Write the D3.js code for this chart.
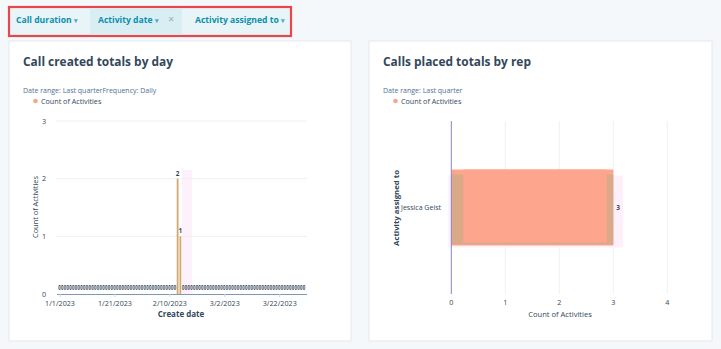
<!DOCTYPE html>
<html><head><meta charset="utf-8">
<script src="https://cdn.jsdelivr.net/npm/d3@7"></script>
<style>
html,body{margin:0;padding:0;background:#f5f8fa;}
svg{display:block;font-family:"Open Sans",sans-serif;}
</style></head><body>
<svg id="c" width="721" height="349"></svg>
<script>
// ---- data ----
const filters = ["Call duration", "Activity date", "Activity assigned to"];
const dayStart = "2023-01-01", dayEnd = "2023-03-31";
const nonZeroDays = ["2023-02-13", "2023-02-14"];
const nonZeroValues = [2, 1];
const dayTickLabels = ["1/1/2023", "1/21/2023", "2/10/2023", "3/2/2023", "3/22/2023"];
const yTicksLeft = [0, 1, 2, 3];
const reps = ["Jessica Geist"];
const repValues = [3];
const xTicksRight = [0, 1, 2, 3, 4];

const svg = d3.select("#c");
const ink = "#33475b", sub = "#516f90";

// filter bar
const fb = svg.append("g");
fb.append("rect").attr("x", 9).attr("y", 7).attr("width", 282).attr("height", 29)
  .attr("fill", "#e8f4f7").attr("stroke", "#e5474d").attr("stroke-width", 2.2);
fb.append("rect").attr("x", 90).attr("y", 8.5).attr("width", 92).attr("height", 26).attr("fill", "#d9eef3");
const fx = [16, 98, 195];
filters.forEach((f, i) => {
  const t = fb.append("text").attr("x", fx[i]).attr("y", 22.5).attr("fill", "#0a8fad")
    .attr("font-size", 8.6).attr("font-weight", 700).text(f + " ");
  t.append("tspan").attr("font-size", 6.5).attr("fill", "#5fa9bd").text("\u25BE");
});
fb.append("text").attr("x", 168).attr("y", 23).attr("fill", "#8fb2bf").attr("font-size", 11).text("\u00D7");

// cards
[[9, 41, 342, 300], [369, 41, 343, 300]].forEach(c => {
  svg.append("rect").attr("x", c[0]).attr("y", c[1]).attr("width", c[2]).attr("height", c[3])
    .attr("fill", "#fff").attr("stroke", "#e3e8ee").attr("stroke-width", 1);
});

function header(x, title, subtitle) {
  svg.append("text").attr("x", x).attr("y", 66).attr("fill", ink).attr("font-size", 11.9)
    .attr("font-weight", 700).text(title);
  svg.append("text").attr("x", x).attr("y", 92.5).attr("fill", sub).attr("font-size", 7.0).text(subtitle);
  svg.append("circle").attr("cx", x + 12.5).attr("cy", 101).attr("r", 2.3).attr("fill", "#f5a48e");
  svg.append("text").attr("x", x + 18).attr("y", 103.6).attr("fill", ink).attr("font-size", 7.2).text("Count of Activities");
}
header(23, "Call created totals by day", "Date range: Last quarterFrequency: Daily");
header(383, "Calls placed totals by rep", "Date range: Last quarter");

// ---- left chart ----
const parse = d3.timeParse("%Y-%m-%d");
const days = d3.timeDay.range(parse(dayStart), d3.timeDay.offset(parse(dayEnd), 1));
const valMap = new Map(nonZeroDays.map((d, i) => [d, nonZeroValues[i]]));
const fmt = d3.timeFormat("%Y-%m-%d");
const series = days.map(d => ({ d, v: valMap.get(fmt(d)) || 0 }));
const x = d3.scaleTime().domain([parse(dayStart), parse(dayEnd)]).range([59.5, 304]);
const y = d3.scaleLinear().domain([0, 3]).range([294, 121]);
const L = svg.append("g");

// hover band
const hi = parse(nonZeroDays[1]);
L.append("rect").attr("x", x(hi) + 1.5).attr("width", 10).attr("y", y(2.15)).attr("height", y(0) - y(2.15))
  .attr("fill", "#fdf1fb");

L.selectAll(".g").data(yTicksLeft.slice(1)).join("line")
  .attr("x1", 56).attr("x2", 307).attr("y1", d => y(d)).attr("y2", d => y(d))
  .attr("stroke", "#edf1f5").attr("stroke-width", 1);
L.selectAll(".yl").data(yTicksLeft).join("text")
  .attr("x", 46).attr("y", d => y(d) + 2.6).attr("text-anchor", "end")
  .attr("font-size", 7.2).attr("fill", ink).text(d => d);

const xTickDates = dayTickLabels.map(s => d3.timeParse("%m/%d/%Y")(s));
const xa = L.append("g").attr("transform", "translate(0,294)")
  .call(d3.axisBottom(x).tickValues(xTickDates).tickFormat(d3.timeFormat("%-m/%-d/%Y")).tickSize(3).tickSizeOuter(0));
xa.select(".domain").attr("stroke", "#7c98b6").attr("d", "M57,0.5H307");
xa.selectAll(".tick line").attr("stroke", "#cbd6e2");
xa.selectAll("text").attr("font-size", 7.2).attr("fill", ink).attr("font-family", "Open Sans").attr("dy", "0.9em");

L.selectAll(".bar").data(series.filter(s => s.v > 0)).join("rect")
  .attr("x", s => x(s.d) - 0.9).attr("width", 1.8)
  .attr("y", s => y(s.v)).attr("height", s => y(0) - y(s.v)).attr("fill", "#d2a86e");
L.selectAll(".lbl").data(series).join("text")
  .attr("transform", s => s.v > 0 ? `translate(${x(s.d)},${y(s.v) - 3})` : `translate(${x(s.d)},290) scale(0.62,1)`)
  .attr("text-anchor", "middle").attr("font-size", s => s.v > 0 ? 6.5 : 7).attr("font-weight", 700)
  .attr("fill", ink).text(s => s.v);

L.append("text").attr("transform", "translate(37.5,207) rotate(-90)").attr("text-anchor", "middle")
  .attr("font-size", 7.4).attr("fill", ink).text("Count of Activities");
L.append("text").attr("x", 181).attr("y", 317).attr("text-anchor", "middle")
  .attr("font-size", 8).attr("font-weight", 700).attr("fill", ink).text("Create date");

// ---- right chart ----
const xr = d3.scaleLinear().domain([0, 4]).range([451.3, 667.3]);
const yr = d3.scaleBand().domain(reps).range([121, 294]).paddingInner(0.1).paddingOuter(0.575);
const R = svg.append("g");
R.selectAll(".vg").data(xTicksRight.slice(1)).join("line")
  .attr("x1", d => xr(d)).attr("x2", d => xr(d)).attr("y1", 121).attr("y2", 294)
  .attr("stroke", "#eef1f5");
reps.forEach((r, i) => {
  const v = repValues[i], y0 = yr(r), h = yr.bandwidth();
  R.append("rect").attr("x", xr(0) - 3).attr("width", xr(v) - xr(0) + 13).attr("y", y0 + 6).attr("height", h - 4)
    .attr("fill", "#fdf0fb");
  R.append("rect").attr("x", xr(0)).attr("width", xr(v) - xr(0)).attr("y", y0).attr("height", h)
    .attr("fill", "#fda58d");
  R.append("rect").attr("x", xr(0)).attr("width", xr(v) - xr(0)).attr("y", y0 + 5).attr("height", h - 6)
    .attr("fill", "#d9a98a");
  R.append("rect").attr("x", xr(0.22)).attr("width", xr(v - 0.12) - xr(0.22)).attr("y", y0).attr("height", h - 3)
    .attr("fill", "#fda58d");
  R.append("text").attr("x", xr(v) + 3).attr("y", y0 + h / 2 + 2.5).attr("font-size", 6.5)
    .attr("font-weight", 700).attr("fill", ink).text(v);
  R.append("text").attr("x", 441).attr("y", y0 + h / 2 + 2.5).attr("text-anchor", "end")
    .attr("font-size", 7.0).attr("fill", ink).text(r);
});
R.append("line").attr("x1", xr(0)).attr("x2", xr(0)).attr("y1", 121).attr("y2", 294)
  .attr("stroke", "#8a86c0").attr("stroke-width", 1);
R.selectAll(".xl").data(xTicksRight).join("text")
  .attr("x", d => xr(d)).attr("y", 305).attr("text-anchor", "middle")
  .attr("font-size", 7.2).attr("fill", ink).text(d => d);
R.append("text").attr("x", 560).attr("y", 317).attr("text-anchor", "middle")
  .attr("font-size", 7.6).attr("fill", ink).text("Count of Activities");
R.append("text").attr("transform", "translate(399,208) rotate(-90)").attr("text-anchor", "middle")
  .attr("font-size", 7.8).attr("font-weight", 700).attr("fill", ink).text("Activity assigned to");
</script></body></html>
